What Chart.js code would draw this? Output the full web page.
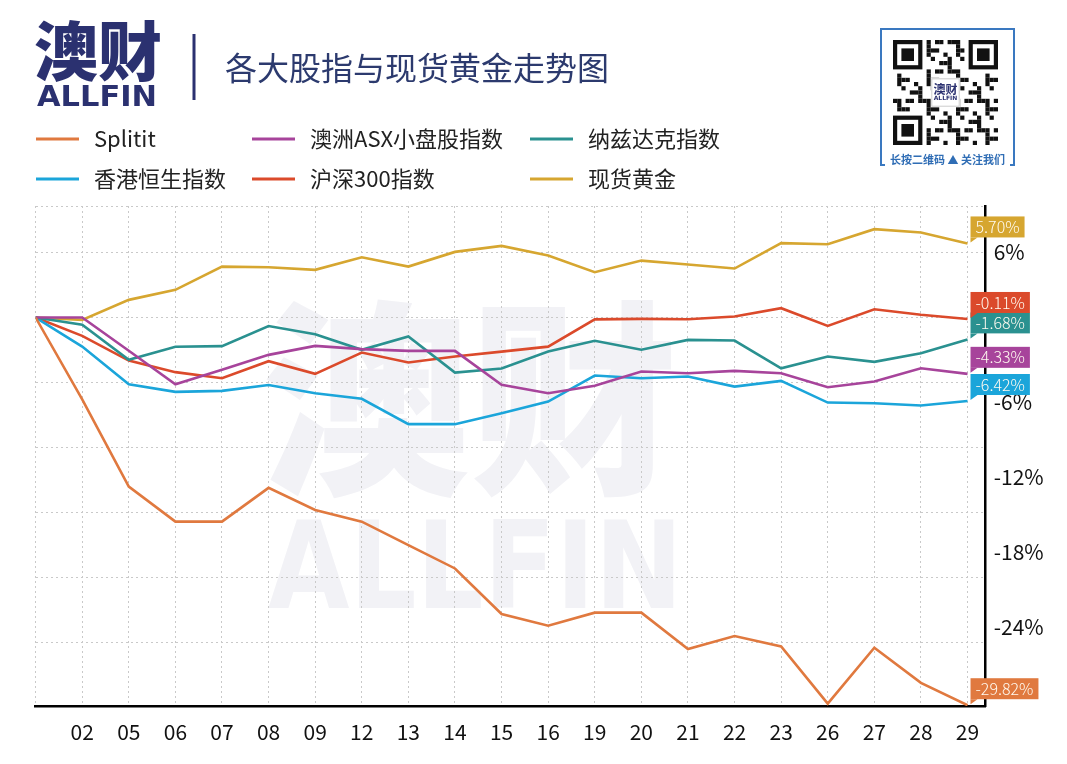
<!DOCTYPE html>
<html>
<head>
<meta charset="utf-8">
<style>
  html, body { margin: 0; padding: 0; background: #fff; }
  #chart { display: block; }
</style>
</head>
<body>
<canvas id="chart" width="1067" height="764"></canvas>
<script src="https://cdn.jsdelivr.net/npm/chart.js@4/dist/chart.umd.min.js"></script>
<script>
// trading days (first point is the base day, no label)
var xLabels = ['', '02', '05', '06', '07', '08', '09', '12', '13', '14', '15', '16', '19', '20', '21', '22', '23', '26', '27', '28', '29'];

// cumulative change in %
var splititValues  = [0, -6.3, -13.0, -15.7, -15.7, -13.1, -14.8, -15.7, -17.5, -19.3, -22.8, -23.7, -22.7, -22.7, -25.5, -24.5, -25.3, -29.7, -25.4, -28.1, -29.82];
var asxValues      = [0, 0, -2.55, -5.13, -4.02, -2.87, -2.18, -2.43, -2.56, -2.56, -5.18, -5.82, -5.25, -4.15, -4.28, -4.1, -4.28, -5.36, -4.92, -3.9, -4.33];
var nasdaqValues   = [0, -0.56, -3.25, -2.25, -2.2, -0.65, -1.28, -2.48, -1.46, -4.23, -3.92, -2.62, -1.79, -2.48, -1.72, -1.77, -3.9, -3.0, -3.41, -2.74, -1.68];
var hangSengValues = [0, -2.23, -5.13, -5.72, -5.64, -5.19, -5.82, -6.25, -8.2, -8.2, -7.36, -6.46, -4.46, -4.67, -4.54, -5.31, -4.87, -6.54, -6.59, -6.77, -6.42];
var csi300Values   = [0, -1.41, -3.31, -4.2, -4.67, -3.36, -4.33, -2.69, -3.46, -3.0, -2.62, -2.24, -0.14, -0.1, -0.13, 0.08, 0.72, -0.64, 0.64, 0.21, -0.11];
var goldValues     = [0, -0.18, 1.36, 2.13, 3.92, 3.87, 3.67, 4.64, 3.92, 5.05, 5.51, 4.77, 3.49, 4.38, 4.08, 3.77, 5.72, 5.64, 6.8, 6.54, 5.70];

var seriesNames = ['Splitit', '澳洲ASX小盘股指数', '纳兹达克指数', '香港恒生指数', '沪深300指数', '现货黄金'];
var yTickValues = [6, -6, -12, -18, -24];

var FONT = '"Noto Sans CJK SC", "Noto Sans", sans-serif';

function pts(vals) {
  return vals.map(function (v, i) { return { x: i, y: v }; });
}

function fitText(ctx, text, x, y, width, font) {
  ctx.save();
  ctx.font = font;
  var w = ctx.measureText(text).width;
  ctx.translate(x, y);
  ctx.scale(width / w, 1);
  ctx.fillText(text, 0, 0);
  ctx.restore();
}

function drawQr(ctx) {
  var x0 = 893, y0 = 40, n = 25, s = 4.2;
  ctx.fillStyle = '#111';
  for (var r = 0; r < n; r++) {
    for (var c = 0; c < n; c++) {
      var inFinder = (r < 8 && c < 8) || (r < 8 && c > n - 9) || (r > n - 9 && c < 8);
      if (inFinder) continue;
      if (((r * r * 3 + c * 7 + r * c * 5 + c * c) % 7) < 3) ctx.fillRect(x0 + c * s, y0 + r * s, s, s);
    }
  }
  [[0, 0], [0, n - 7], [n - 7, 0]].forEach(function (p) {
    var fx = x0 + p[1] * s, fy = y0 + p[0] * s;
    ctx.fillStyle = '#111'; ctx.fillRect(fx, fy, 7 * s, 7 * s);
    ctx.fillStyle = '#fff'; ctx.fillRect(fx + s, fy + s, 5 * s, 5 * s);
    ctx.fillStyle = '#111'; ctx.fillRect(fx + 2 * s, fy + 2 * s, 3 * s, 3 * s);
  });
  // centre logo
  ctx.fillStyle = '#fff';
  ctx.fillRect(x0 + 9 * s, y0 + 9 * s, 7 * s, 7 * s);
  ctx.strokeStyle = '#ccc'; ctx.lineWidth = 1;
  ctx.strokeRect(x0 + 9 * s + 1, y0 + 9 * s + 1, 7 * s - 2, 7 * s - 2);
  ctx.fillStyle = '#2b3170';
  ctx.font = 'bold 12px ' + FONT;
  ctx.textAlign = 'center'; ctx.textBaseline = 'middle';
  ctx.fillText('澳财', x0 + 12.5 * s, y0 + 11.8 * s);
  ctx.font = 'bold 6px "DejaVu Sans"';
  ctx.fillText('ALLFIN', x0 + 12.5 * s, y0 + 14 * s);
  // frame
  ctx.strokeStyle = '#3a78c0'; ctx.lineWidth = 2;
  ctx.beginPath();
  ctx.moveTo(881, 160); ctx.lineTo(881, 29); ctx.lineTo(1014, 29); ctx.lineTo(1014, 160);
  ctx.stroke();
  ctx.beginPath();
  ctx.moveTo(881, 159); ctx.lineTo(881, 165); ctx.lineTo(885, 165);
  ctx.moveTo(1014, 159); ctx.lineTo(1014, 165); ctx.lineTo(1010, 165);
  ctx.stroke();
  ctx.fillStyle = '#2f6db5';
  ctx.font = 'bold 11px ' + FONT;
  ctx.fillText('长按二维码 ▲ 关注我们', 947.5, 160);
}

var backdrop = {
  id: 'backdrop',
  beforeDraw: function (chart) {
    var ctx = chart.ctx;
    ctx.save();
    ctx.fillStyle = '#fff';
    ctx.fillRect(0, 0, chart.width, chart.height);

    // watermark
    ctx.fillStyle = '#f2f2f6';
    ctx.textBaseline = 'middle';
    ctx.font = '900 208px ' + FONT;
    ctx.fillText('澳财', 262, 399);
    ctx.textBaseline = 'alphabetic';
    fitText(ctx, 'ALLFIN', 268, 608, 415, 'bold 121px "DejaVu Sans"');

    // logo
    ctx.fillStyle = '#2b3170';
    ctx.textBaseline = 'middle';
    ctx.font = '900 64px ' + FONT;
    ctx.fillText('澳财', 34, 51);
    ctx.textBaseline = 'alphabetic';
    fitText(ctx, 'ALLFIN', 37, 106, 120, 'bold 29px "DejaVu Sans"');
    ctx.strokeStyle = '#2b3170';
    ctx.lineWidth = 3;
    ctx.beginPath(); ctx.moveTo(194, 34); ctx.lineTo(194, 100); ctx.stroke();

    // title
    ctx.fillStyle = '#2c3a6e';
    ctx.textBaseline = 'middle';
    ctx.font = '32px ' + FONT;
    ctx.fillText('各大股指与现货黄金走势图', 225, 68);

    drawQr(ctx);

    // legend, three columns
    var colX = [36, 252, 530], rowY = [139, 179];
    ctx.textAlign = 'left';
    ctx.textBaseline = 'middle';
    ctx.font = '22px ' + FONT;
    chart.data.datasets.forEach(function (ds, i) {
      var x = colX[i % 3], y = rowY[Math.floor(i / 3)];
      ctx.strokeStyle = ds.borderColor;
      ctx.lineWidth = 3;
      ctx.beginPath(); ctx.moveTo(x, y); ctx.lineTo(x + 43, y); ctx.stroke();
      ctx.fillStyle = '#222';
      ctx.fillText(ds.label, x + 58, y);
    });
    ctx.restore();
  }
};

var endBadges = {
  id: 'endBadges',
  afterDraw: function (chart) {
    var ctx = chart.ctx;
    ctx.save();
    ctx.font = '300 16px ' + FONT;
    ctx.textBaseline = 'middle';
    ctx.textAlign = 'left';
    chart.data.datasets.forEach(function (ds, i) {
      var meta = chart.getDatasetMeta(i);
      var last = meta.data[meta.data.length - 1];
      var val = ds.data[ds.data.length - 1].y;
      var txt = val.toFixed(2) + '%';
      var w = ctx.measureText(txt).width + 10;
      var bx = last.x + 3, bottom = last.y - 6, h = 21;
      ctx.fillStyle = ds.borderColor;
      ctx.fillRect(bx, bottom - h, w, h);
      ctx.beginPath();
      ctx.moveTo(bx, bottom); ctx.lineTo(bx + 7, bottom); ctx.lineTo(bx, bottom + 5);
      ctx.closePath(); ctx.fill();
      ctx.fillStyle = '#fffaf0';
      ctx.fillText(txt, bx + 5, bottom - h / 2);
    });
    ctx.restore();
  }
};

var colors = ['#e0793f', '#a7449b', '#2a9190', '#1ba5da', '#db4a2b', '#d6a630'];
var allValues = [splititValues, asxValues, nasdaqValues, hangSengValues, csi300Values, goldValues];

var datasets = allValues.map(function (vals, i) {
  return {
    label: seriesNames[i],
    data: pts(vals),
    borderColor: colors[i],
    backgroundColor: colors[i],
    borderWidth: 2.6,
    pointRadius: 0,
    tension: 0,
    fill: false
  };
});

var dotted = { color: '#c9c9c9', lineWidth: 1, drawTicks: false, tickLength: 0 };

new Chart(document.getElementById('chart'), {
  type: 'line',
  data: { datasets: datasets },
  plugins: [backdrop, endBadges],
  options: {
    responsive: false,
    animation: false,
    devicePixelRatio: 1,
    layout: { padding: { left: 35.6, top: 206, right: 0, bottom: 0 } },
    plugins: { legend: { display: false }, tooltip: { enabled: false } },
    scales: {
      x: {
        type: 'linear',
        min: 0,
        max: 20.39,
        grid: dotted,
        border: { display: true, color: '#000', width: 2.5, dash: [2, 3] },
        ticks: {
          autoSkip: false,
          maxRotation: 0,
          padding: 13,
          color: '#111',
          font: { family: FONT, size: 21 },
          callback: function (v) { return xLabels[v]; }
        },
        afterBuildTicks: function (s) {
          s.ticks = xLabels.map(function (l, i) { return { value: i }; });
        },
        afterFit: function (s) { s.height = 58; s.paddingLeft = 0; s.paddingRight = 0; }
      },
      y: {
        type: 'linear',
        position: 'left',
        min: -29.88,
        max: 8.58,
        grid: dotted,
        border: { display: false, dash: [2, 3] },
        ticks: { display: false, stepSize: 5 },
        afterFit: function (s) { s.width = 0; s.paddingTop = 0; s.paddingBottom = 0; }
      },
      y2: {
        type: 'linear',
        position: 'right',
        min: -30.344,
        max: 9.656,
        grid: { display: false, drawTicks: false, tickLength: 0 },
        border: { display: true, color: '#000', width: 2.5 },
        ticks: {
          padding: 8,
          color: '#111',
          font: { family: FONT, size: 21 },
          callback: function (v) { return v + '%'; }
        },
        afterBuildTicks: function (s) {
          s.ticks = yTickValues.map(function (v) { return { value: v }; });
        },
        afterFit: function (s) { s.width = 81.3; s.paddingTop = 0; s.paddingBottom = 0; }
      }
    }
  }
});
</script>
</body>
</html>
